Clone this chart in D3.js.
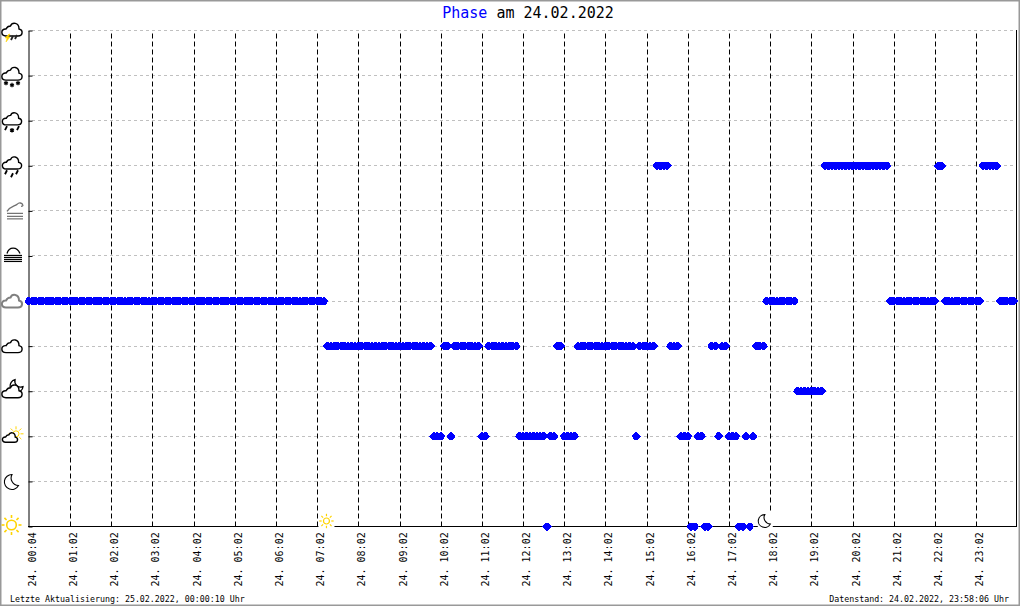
<!DOCTYPE html>
<html>
<head>
<meta charset="utf-8">
<script src="https://cdn.jsdelivr.net/npm/d3@7"></script>
<style>
  html, body { margin: 0; padding: 0; background: #fff; }
  svg { display: block; }
  text { font-family: "DejaVu Sans Mono", monospace; fill: #000; }
</style>
</head>
<body>
<div id="chart"></div>
<script>
// phase names, bottom to top of the y axis
var phaseNames = ['sun', 'moon', 'sunCloud', 'moonCloud', 'cloud', 'overcast', 'fog', 'haze', 'rain', 'sleet', 'snow', 'thunder'];

// one phase per sample, twelve samples per row (about one hour)
var phaseSamples = [
  5,5,5,5,5,5,5,5,5,5,5,5,
  5,5,5,5,5,5,5,5,5,5,5,5,
  5,5,5,5,5,5,5,5,5,5,5,5,
  5,5,5,5,5,5,5,5,5,5,5,5,
  5,5,5,5,5,5,5,5,5,5,5,5,
  5,5,5,5,5,5,5,5,5,5,5,5,
  5,5,5,5,5,5,5,5,5,5,5,5,
  5,5,5,4,4,4,4,4,4,4,4,4,
  4,4,4,4,4,4,4,4,4,4,4,4,
  4,4,4,4,4,4,4,4,4,4,2,2,
  2,4,4,2,4,4,4,4,4,4,4,4,
  2,2,4,4,4,4,4,4,4,4,4,2,
  2,2,2,2,2,2,2,0,2,2,4,4,
  2,2,2,2,4,4,4,4,4,4,4,4,
  4,4,4,4,4,4,4,4,4,2,4,4,
  4,4,4,8,8,8,8,4,4,4,2,2,
  2,0,0,2,2,0,0,4,4,2,4,4,
  2,2,2,0,0,2,0,2,4,4,4,5,
  5,5,5,5,5,5,5,5,3,3,3,3,
  3,3,3,3,8,8,8,8,8,8,8,8,
  8,8,8,8,8,8,8,8,8,8,8,5,
  5,5,5,5,5,5,5,5,5,5,5,5,
  5,8,8,5,5,5,5,5,5,5,5,5,
  5,5,8,8,8,8,8,5,5,5,5,5
];

var tickSamples = [0, 12, 24, 36, 48, 60, 72, 84, 96, 108, 120, 132, 144, 156, 168, 180, 192, 204, 216, 228, 240, 252, 264, 276];
var tickLabels = ['24. 00:04', '24. 01:02', '24. 02:02', '24. 03:02', '24. 04:02', '24. 05:02', '24. 06:02', '24. 07:02',
  '24. 08:02', '24. 09:02', '24. 10:02', '24. 11:02', '24. 12:02', '24. 13:02', '24. 14:02', '24. 15:02', '24. 16:02',
  '24. 17:02', '24. 18:02', '24. 19:02', '24. 20:02', '24. 21:02', '24. 22:02', '24. 23:02'];

// sunrise and sunset markers, as sample numbers
var sunriseSample = 87;
var sunsetSample = 214;

var w = 1020, h = 606;
var left = 28, right = 1016, top_ = 30, bottom = 526;

var svg = d3.select('#chart').append('svg').attr('width', w).attr('height', h);

var x = d3.scaleLinear().domain([0, 287]).range([28.9, 1013.8]);
var y = d3.scalePoint().domain(d3.range(phaseNames.length)).range([bottom, top_]);

function px(v) { return Math.round(v) + 0.5; }

// grey frame round the picture
svg.append('rect').attr('x', 0.5).attr('y', 0.5).attr('width', w - 1).attr('height', h - 1)
  .attr('fill', 'none').attr('stroke', '#999').attr('stroke-width', 2);

// title
var title = svg.append('text').attr('x', 528).attr('y', 18).attr('text-anchor', 'middle').attr('font-size', 15);
title.append('tspan').style('fill', '#0000ff').text('Phase');
title.append('tspan').text(' am 24.02.2022');

// horizontal grid
svg.selectAll('.hgrid').data(d3.range(1, phaseNames.length)).enter().append('line')
  .attr('class', 'hgrid')
  .attr('x1', left + 4).attr('x2', right)
  .attr('y1', function(d) { return px(y(d)); })
  .attr('y2', function(d) { return px(y(d)); })
  .attr('stroke', '#c0c0c0').attr('stroke-dasharray', '3,3');

// x axis with dashed hour lines and rotated labels
var xAxis = d3.axisBottom(x)
  .tickValues(tickSamples)
  .tickSize(0)
  .tickFormat(function(d, i) { return tickLabels[i]; });

var gx = svg.append('g').attr('transform', 'translate(0,' + (bottom + 0.5) + ')').call(xAxis);
gx.select('.domain').remove();
gx.selectAll('.tick').attr('transform', function(d) { return 'translate(' + px(x(d)) + ',0)'; });
gx.selectAll('.tick line')
  .attr('y2', function(d, i) { return i == 0 ? 0 : top_ - bottom; })
  .attr('stroke', '#000').attr('stroke-dasharray', '5,3');
gx.selectAll('.tick text')
  .attr('transform', 'rotate(-90)')
  .attr('text-anchor', 'start')
  .attr('x', -60).attr('y', 6).attr('dy', 0)
  .attr('font-family', '"DejaVu Sans Mono", monospace')
  .attr('font-size', 10);

// y axis, ticks point into the plot
var yAxis = d3.axisRight(y).tickSize(4).tickSizeOuter(0).tickFormat('');
var gy = svg.append('g').attr('transform', 'translate(' + (left + 0.5) + ',0.5)').call(yAxis);
gy.select('.domain').attr('stroke', '#000');
gy.selectAll('.tick line').attr('stroke', '#000');

// bottom and right border of the plot
svg.append('line').attr('x1', left).attr('x2', right + 1).attr('y1', bottom + 0.5).attr('y2', bottom + 0.5).attr('stroke', '#000');
svg.append('line').attr('x1', right + 0.5).attr('x2', right + 0.5).attr('y1', top_).attr('y2', bottom + 1).attr('stroke', '#000');

// blunt diamond, the size argument is ignored
var markerType = {
  draw: function(ctx) {
    ctx.moveTo(-4.6, 0);
    ctx.lineTo(-3, -2);
    ctx.lineTo(-1, -4);
    ctx.lineTo(1, -4);
    ctx.lineTo(3, -2);
    ctx.lineTo(4.6, 0);
    ctx.lineTo(3, 2);
    ctx.lineTo(1, 4);
    ctx.lineTo(-1, 4);
    ctx.lineTo(-3, 2);
    ctx.closePath();
  }
};

// the samples
svg.append('g').selectAll('path').data(phaseSamples).enter().append('path')
  .attr('d', d3.symbol().type(markerType))
  .attr('transform', function(d, i) { return 'translate(' + x(i) + ',' + (y(d) + 0.5) + ')'; })
  .attr('fill', '#0000ff')
  .attr('shape-rendering', 'crispEdges');

// icons
var cloudPath = 'M-6,6 C-11.5,6 -11.5,-1.5 -6,-1 C-5,-3 -3,-4 -1.5,-4 C0,-8 7,-8 7,-1 C11.5,0 11,6 6,6 Z';

function addCloud(g, color, scale, dx, dy, width) {
  g.append('path').attr('d', cloudPath)
    .attr('transform', 'translate(' + (dx || 0) + ',' + (dy || 0) + ') scale(' + (scale || 1) + ')')
    .attr('fill', '#fff').attr('stroke', color || '#000').attr('stroke-width', (width || 1.4) / (scale || 1));
}

function addSun(g, cx, cy, r, rayIn, rayOut, width) {
  var rays = d3.range(8).map(function(i) { return i * Math.PI / 4; });
  g.selectAll('.ray').data(rays).enter().append('line').attr('class', 'ray')
    .attr('x1', function(a) { return cx + rayIn * Math.cos(a); })
    .attr('y1', function(a) { return cy + rayIn * Math.sin(a); })
    .attr('x2', function(a) { return cx + rayOut * Math.cos(a); })
    .attr('y2', function(a) { return cy + rayOut * Math.sin(a); })
    .attr('stroke', '#ffd400').attr('stroke-width', width);
  g.append('circle').attr('cx', cx).attr('cy', cy).attr('r', r)
    .attr('fill', '#fff').attr('stroke', '#ffd400').attr('stroke-width', width);
}

function addMoon(g, s) {
  g.append('path')
    .attr('d', 'M0,-7.5 A7.5,7.5 0 1 0 6.5,3.5 A7.5,7.5 0 0 1 0,-7.5 Z')
    .attr('transform', 'scale(' + s + ')')
    .attr('fill', '#fff').attr('stroke', '#000').attr('stroke-width', 1.1 / s);
}

function addDrops(g, xs, ys, shape, color) {
  xs.forEach(function(dx, i) {
    if (shape == 'flake') {
      g.append('path').attr('d', d3.symbol().type(d3.symbolAsterisk).size(14))
        .attr('transform', 'translate(' + dx + ',' + ys[i] + ')')
        .attr('stroke', color).attr('stroke-width', 1.3);
    } else {
      g.append('line').attr('x1', dx + 1).attr('y1', ys[i] - 2).attr('x2', dx - 1).attr('y2', ys[i] + 2)
        .attr('stroke', color).attr('stroke-width', 1.8);
    }
  });
}

function addBars(g, color, ys, x1, x2) {
  ys.forEach(function(v) {
    g.append('line').attr('x1', x1).attr('x2', x2).attr('y1', v).attr('y2', v)
      .attr('stroke', color).attr('stroke-width', 1.2);
  });
}

var iconDraw = {
  sun: function(g) { addSun(g, -0.5, 0, 4.8, 7, 10, 1.6); },
  moon: function(g) { g.attr('transform', 'translate(12,482)'); addMoon(g, 1); },
  sunCloud: function(g) {
    addSun(g, 4, -3, 3, 4.5, 7.5, 1);
    addCloud(g, '#000', 0.75, -2, 1);
  },
  moonCloud: function(g) {
    g.append('path').attr('d', 'M3,-12 A6.5,6.5 0 1 0 11,-5 A6,6 0 0 1 3,-12 Z')
      .attr('fill', '#fff').attr('stroke', '#000').attr('stroke-width', 1.3);
    addCloud(g, '#000', 1, 0, 0);
  },
  cloud: function(g) { addCloud(g, '#000', 1, 0, 0); },
  overcast: function(g) { addCloud(g, '#808080', 1, 0, 0, 2); },
  fog: function(g) {
    g.append('path').attr('d', 'M-6,-3 C-4,-10 4,-10 7,-3').attr('fill', 'none').attr('stroke', '#000').attr('stroke-width', 1.3);
    addBars(g, '#000', [-1, 1, 3, 5], -9, 9);
  },
  haze: function(g) {
    g.append('path').attr('d', 'M-6,0 C-3,-5 1,-5 4,-7 C6,-9 9,-9 10,-6 C10,-5 9,-5 8,-5')
      .attr('fill', 'none').attr('stroke', '#707070').attr('stroke-width', 1.3);
    addBars(g, '#707070', [2, 5, 7.5], -6, 10);
  },
  rain: function(g) {
    addCloud(g, '#000', 0.95, 0, -3);
    addDrops(g, [-6, 0, 5], [6, 9, 6], 'drop', '#000');
  },
  sleet: function(g) {
    addCloud(g, '#000', 0.95, 0, -2);
    addDrops(g, [-6, 6], [7, 7], 'drop', '#000');
    addDrops(g, [0], [9], 'flake', '#000');
  },
  snow: function(g) {
    addCloud(g, '#000', 1, 0, -2);
    addDrops(g, [-6, 0, 6], [7, 9, 7], 'flake', '#000');
  },
  thunder: function(g) {
    addCloud(g, '#000', 1, 0, -1);
    g.append('path').attr('d', 'M-3,3 L-7,7 L-5,7 L-6,11 L-2,6 L-4,6 L-2,3 Z').attr('fill', '#ffd400').attr('stroke', '#ffd400').attr('stroke-width', 0.5);
    addDrops(g, [0, 4], [7, 6], 'drop', '#222');
  }
};

var iconX = [12, 13, 12, 12, 12, 12, 13, 13, 12, 12, 12, 12];

svg.selectAll('.icon').data(phaseNames).enter().append('g')
  .attr('class', 'icon')
  .attr('transform', function(d, i) { return 'translate(' + iconX[i] + ',' + (y(i) + (i == 0 ? -1 : 1)) + ')'; })
  .each(function(d) { iconDraw[d](d3.select(this)); });

// sunrise and sunset sit on the axis, with a white patch behind them
var riseX = x(sunriseSample) - 1, setX = x(sunsetSample) + 1.5;
svg.append('rect').attr('x', riseX - 8).attr('y', 512).attr('width', 16).attr('height', 16).attr('fill', '#fff');
var rise = svg.append('g').attr('transform', 'translate(' + riseX + ',521)');
addSun(rise, 0, 0, 3, 4.8, 7.2, 1.2);
svg.append('rect').attr('x', setX - 7).attr('y', 512).attr('width', 15).attr('height', 16).attr('fill', '#fff');
var set = svg.append('g').attr('transform', 'translate(' + setX + ',521)');
addMoon(set, 0.85);

// footer
svg.append('text').attr('x', 10).attr('y', 602).attr('font-size', 8.3).text('Letzte Aktualisierung: 25.02.2022, 00:00:10 Uhr');
svg.append('text').attr('x', 1009).attr('y', 602).attr('font-size', 8.3).attr('text-anchor', 'end').text('Datenstand: 24.02.2022, 23:58:06 Uhr');
</script>
</body>
</html>
